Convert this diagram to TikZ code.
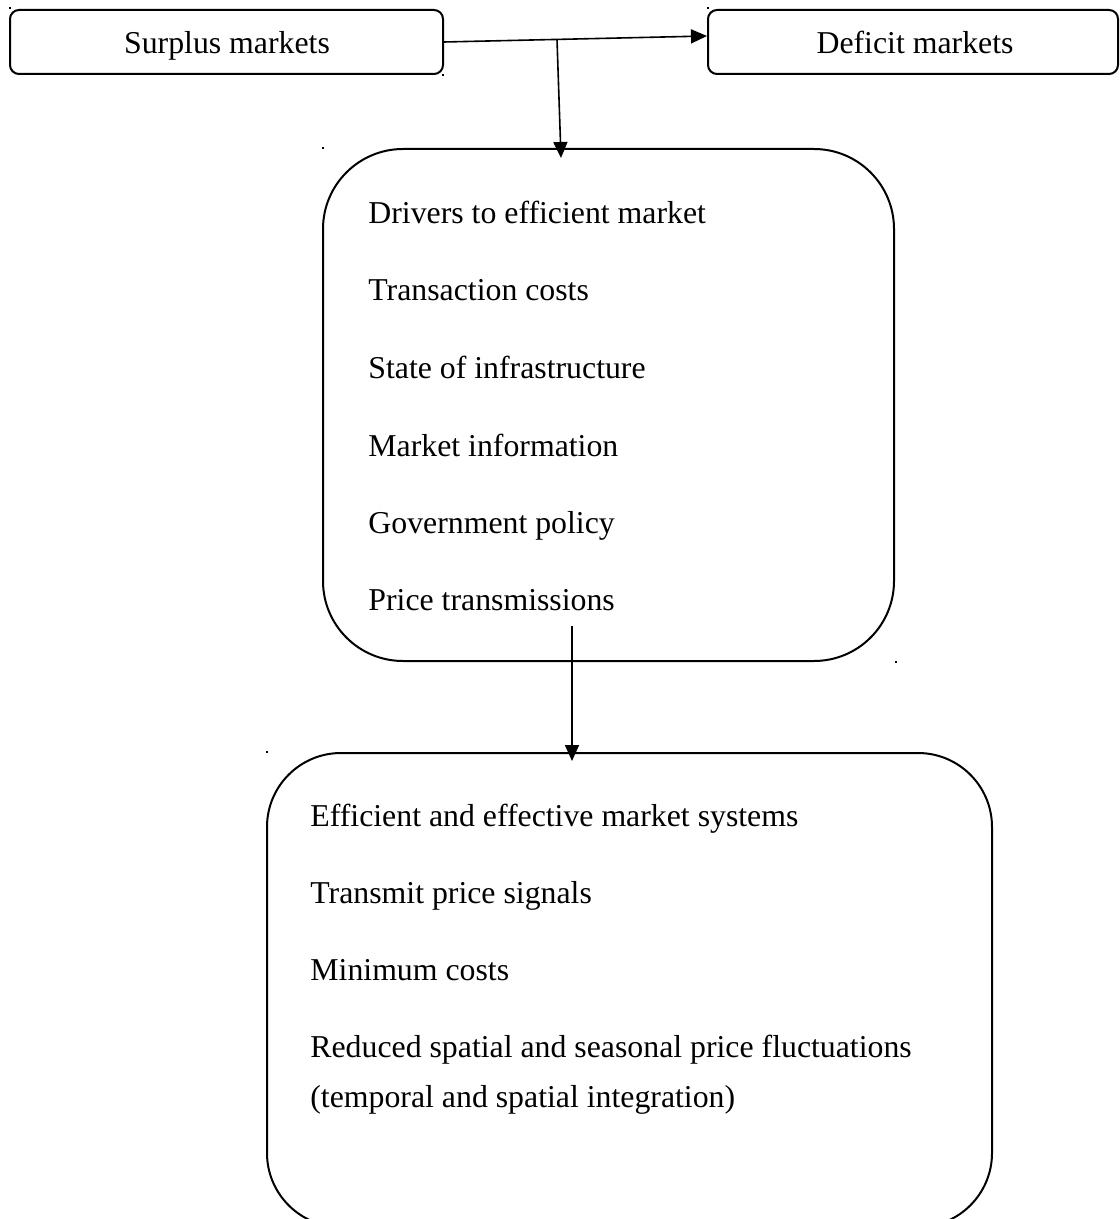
\documentclass[tikz,border=0pt]{standalone}
\usepackage{fontspec}
\setmainfont{Liberation Serif}
\usetikzlibrary{arrows.meta,calc}
\begin{document}
\begin{tikzpicture}[x=0.5pt,y=-0.5pt,
  box/.style={draw, line width=1pt, rounded corners=4.5pt, inner sep=0pt, minimum height=32pt},
  bigbox/.style={draw, line width=1pt, inner sep=0pt},
  lbl/.style={anchor=base west, inner sep=0pt, font=\fontsize{15.9}{19}\selectfont},
  ctr/.style={anchor=base, inner sep=0pt, font=\fontsize{15.9}{19}\selectfont},
  arr/.style={line width=0.8pt, -{Triangle[length=8pt,width=7pt]}},
  dotmark/.style={fill=black, inner sep=0pt, minimum size=1.2pt, rectangle}]
\useasboundingbox (0,0) rectangle (1119,1219);
\clip (0,0) rectangle (1119,1219);

% top boxes
\node[box, minimum width=216.5pt] (s) at (226.5,42) {};
\node[box, minimum width=205pt] (d) at (913,42) {};
\node[ctr] (stxt) at (227,54) {Surplus markets};
\node[ctr] (dtxt) at (915,54) {Deficit markets};

% middle box
\node[bigbox, rounded corners=40pt, minimum width=285.5pt, minimum height=256pt] (m) at (608.5,405) {};
\node[lbl] (m1) at (368,224) {Drivers to efficient market};
\node[lbl] (m2) at (368,301) {Transaction costs};
\node[lbl] (m3) at (368,378.5) {State of infrastructure};
\node[lbl] (m4) at (368,456) {Market information};
\node[lbl] (m5) at (368,533) {Government policy};
\node[lbl] (m6) at (368,610.5) {Price transmissions};

% bottom box
\node[bigbox, rounded corners=37pt, minimum width=362.5pt, minimum height=237pt] (b) at (629.5,990) {};
\node[lbl] (b1) at (310,826) {Efficient and effective market systems};
\node[lbl] (b2) at (310,903) {Transmit price signals};
\node[lbl] (b3) at (310,980) {Minimum costs};
\node[lbl] (b4) at (310,1057.5) {Reduced spatial and seasonal price fluctuations};
\node[lbl] (b5) at (310,1107.5) {(temporal and spatial integration)};

% connectors
\coordinate (j) at (557,39.5);
\coordinate (t1) at (561,158);
\coordinate (a2) at (572,626);
\coordinate (t2) at (572,761);
\draw[arr] (s.east) -- ($(d.west)+(0,-6)$);
\draw[arr] (j) -- (t1);
\draw[arr] (a2) -- (t2);

% small anchor marks
\node[dotmark] (p1) at (10,8) {};
\node[dotmark] (p2) at (443,75) {};
\node[dotmark] (p3) at (708,8) {};
\node[dotmark] (p4) at (323,148) {};
\node[dotmark] (p5) at (896,662) {};
\node[dotmark] (p6) at (267,752) {};
\end{tikzpicture}
\end{document}
